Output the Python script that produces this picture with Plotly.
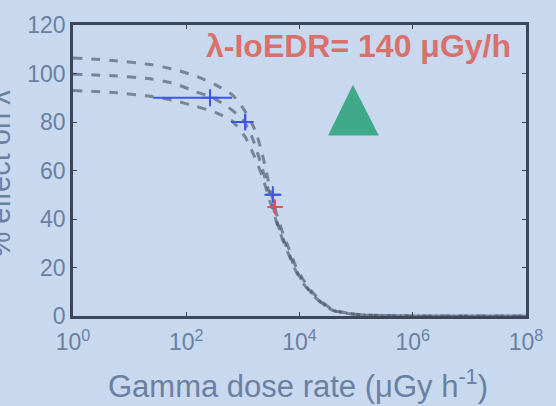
import plotly.graph_objects as go

# ---- data ----
# fitted curves: log10(dose rate) and % effect
upper_logx = [0, 0.7, 1.36, 1.8, 2.21, 2.51, 2.81, 3.04, 3.22, 3.34, 3.43, 3.50, 3.62, 3.71, 3.80, 3.92, 4.05, 4.22, 4.40, 4.58, 4.81, 5.16, 6.0, 8.0]
upper_y    = [106.4, 105.4, 103.7, 101.6, 98.6, 95.4, 91.3, 84.4, 76.4, 67.1, 57.8, 50.5, 40.0, 34.0, 28.5, 21.3, 15.6, 10.0, 5.8, 2.7, 1.3, 0.4, 0.05, 0]

middle_logx = [0, 0.7, 1.36, 1.8, 2.16, 2.46, 2.74, 2.99, 3.16, 3.30, 3.43, 3.52, 3.62, 3.71, 3.80, 3.92, 4.05, 4.22, 4.40, 4.58, 4.81, 5.16, 6.0, 8.0]
middle_y    = [99.7, 99.1, 97.8, 95.8, 92.5, 90.1, 86.1, 81.2, 73.9, 64.2, 53.7, 46.5, 37.6, 31.9, 26.7, 19.8, 14.5, 9.3, 5.3, 2.4, 1.2, 0.4, 0.05, 0]

lower_logx = [0, 0.7, 1.36, 1.8, 2.16, 2.51, 2.81, 3.04, 3.18, 3.34, 3.45, 3.55, 3.64, 3.73, 3.82, 3.94, 4.07, 4.24, 4.42, 4.60, 4.83, 5.18, 6.0, 8.0]
lower_y    = [93.0, 92.2, 90.6, 88.8, 86.5, 84.0, 80.4, 73.9, 67.1, 57.8, 49.5, 42.0, 35.5, 29.8, 24.8, 18.3, 13.3, 8.5, 4.8, 2.2, 1.1, 0.35, 0.05, 0]

# measured points (dose rate, % effect, x error minus/plus, y error)
blue_x   = [263, 1100, 3390]
blue_y   = [90, 80, 50]
blue_xlo = [237, 483, 820]
blue_xhi = [382, 350, 1180]
blue_ye  = [2.4, 3.0, 1.5]

red_x   = [3700]
red_y   = [45]
red_xlo = [800]
red_xhi = [1300]
red_ye  = [2.0]

x_tickvals = [1, 100, 1e4, 1e6, 1e8]
x_ticktext = ["10<sup>0</sup>", "10<sup>2</sup>", "10<sup>4</sup>", "10<sup>6</sup>", "10<sup>8</sup>"]
y_tickvals = [0, 20, 40, 60, 80, 100, 120]

BG = "#c8d8ee"
TICK = "#6a80a2"
AXIS = "#3c4658"
CURVE = "rgba(70,80,100,0.62)"
FONT = "Liberation Sans, Arial"

fig = go.Figure()
for lx, ly in [(upper_logx, upper_y), (middle_logx, middle_y), (lower_logx, lower_y)]:
    fig.add_trace(go.Scatter(
        x=[10 ** v for v in lx], y=ly, mode="lines",
        line=dict(color=CURVE, width=3, dash="dash", shape="spline", smoothing=0.6),
        hoverinfo="skip", showlegend=False))

fig.add_trace(go.Scatter(
    x=blue_x, y=blue_y, mode="markers",
    marker=dict(symbol="cross-thin", size=12, line=dict(color="#3f55ee", width=2)),
    error_x=dict(type="data", symmetric=False, array=blue_xhi, arrayminus=blue_xlo,
                 color="#3f55ee", thickness=2, width=0),
    error_y=dict(type="data", array=blue_ye, color="#3f55ee", thickness=2, width=0),
    showlegend=False))

fig.add_trace(go.Scatter(
    x=red_x, y=red_y, mode="markers",
    marker=dict(symbol="cross-thin", size=11, line=dict(color="#e0505a", width=2)),
    error_x=dict(type="data", symmetric=False, array=red_xhi, arrayminus=red_xlo,
                 color="#e0505a", thickness=1.5, width=0),
    error_y=dict(type="data", array=red_ye, color="#e0505a", thickness=1.5, width=0),
    showlegend=False))

# green triangle (decorative)
fig.add_shape(type="path", xref="paper", yref="paper",
              path="M 0.618,0.795 L 0.563,0.620 L 0.675,0.620 Z",
              fillcolor="#3fa98a", line=dict(width=0))

fig.add_annotation(xref="paper", yref="paper", x=0.630, y=0.929,
                   xanchor="center", yanchor="middle",
                   text="<b>λ-IoEDR= 140 μGy/h</b>", showarrow=False,
                   font=dict(family=FONT, size=32, color="#d9706c"))

fig.add_annotation(xref="paper", yref="paper", x=-0.161, y=0.49,
                   xanchor="center", yanchor="middle",
                   text="% effect on λ", textangle=-90, showarrow=False,
                   font=dict(family=FONT, size=29, color=TICK))

fig.add_annotation(xref="paper", yref="paper", x=0.497, y=-0.233,
                   xanchor="center", yanchor="middle",
                   text="Gamma dose rate (μGy h<sup>-1</sup>)", showarrow=False,
                   font=dict(family=FONT, size=31, color=TICK))

fig.update_layout(
    width=556, height=406,
    margin=dict(l=73, r=30, t=19, b=90),
    paper_bgcolor=BG, plot_bgcolor=BG,
    font=dict(family=FONT, color=TICK),
)
fig.update_xaxes(type="log", range=[0, 8], tickvals=x_tickvals, ticktext=x_ticktext,
                 tickfont=dict(size=23, color=TICK), ticklabelstandoff=4,
                 showgrid=False, zeroline=False, showline=True, linecolor=AXIS, linewidth=2.5,
                 mirror="ticks", ticks="inside", ticklen=4, tickcolor=AXIS)
fig.update_yaxes(range=[0, 120], tickvals=y_tickvals,
                 tickfont=dict(size=23, color=TICK),
                 showgrid=False, zeroline=False, showline=True, linecolor=AXIS, linewidth=2.5,
                 mirror="ticks", ticks="inside", ticklen=4, tickcolor=AXIS)

fig.write_html(
    "out.html",
    config={"displayModeBar": False},
    post_script="document.body.style.margin='0';document.body.style.background='%s';" % BG,
)
